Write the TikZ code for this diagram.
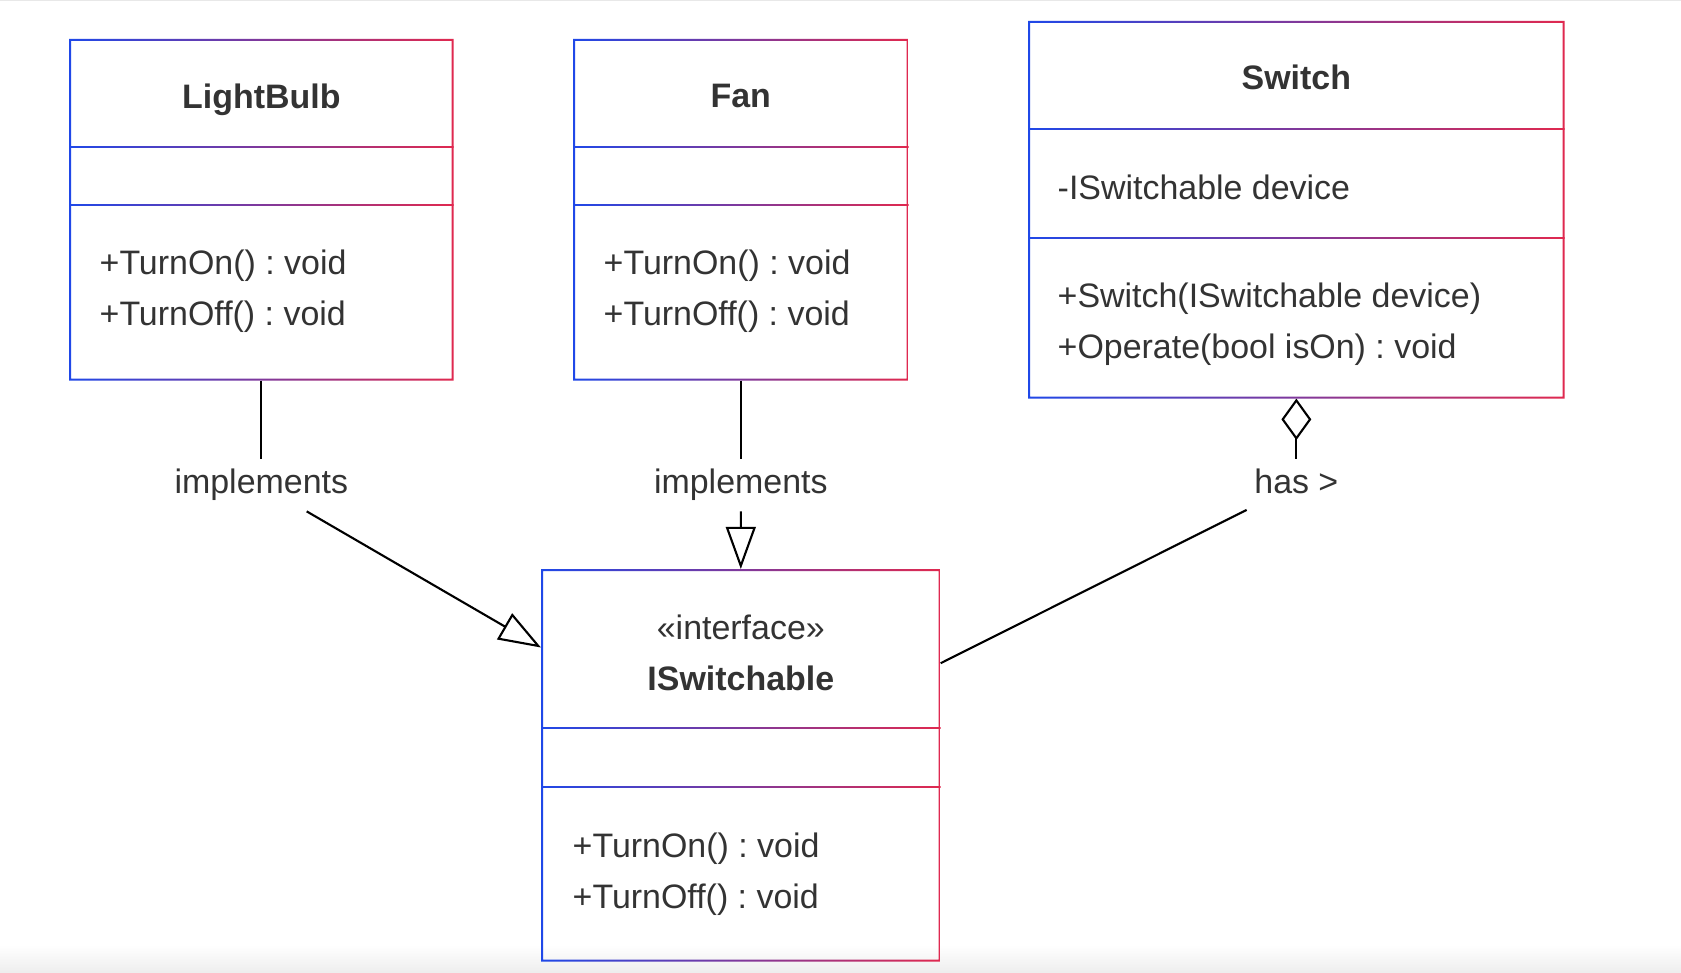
\documentclass[tikz,border=0pt]{standalone}
\usepackage{fontspec}
\setmainfont{Liberation Sans}
\usetikzlibrary{positioning,calc,arrows.meta}
\definecolor{edgeblue}{HTML}{1F48E8}
\definecolor{edgered}{HTML}{E0294F}
\definecolor{txtgray}{HTML}{333333}
\newcommand{\umlfont}{\fontsize{9.65}{14.5}\selectfont}
\frenchspacing
% frame of a class box with its two dividers (given as y in px)
\newcommand{\classframe}[3]{%
  \shade[left color=edgeblue, right color=edgered, even odd rule]
    (#1.north west) rectangle (#1.south east)
    ($(#1.north west)+(2,2)$) rectangle ($(#1.south east)+(-2,-2)$);
  \shade[left color=edgeblue, right color=edgered]
    ($(#1.west |- 0,#2)+(0,-0.8)$) rectangle ($(#1.east |- 0,#2)+(0,0.8)$);
  \shade[left color=edgeblue, right color=edgered]
    ($(#1.west |- 0,#3)+(0,-0.8)$) rectangle ($(#1.east |- 0,#3)+(0,0.8)$);
}

\begin{document}
\begin{tikzpicture}[
    x=0.01cm, y=-0.01cm,
    every node/.style={font=\umlfont, text=txtgray},
    classbox/.style={rectangle, draw=none, anchor=north west, inner sep=0pt},
    classtitle/.style={font=\umlfont\bfseries, align=center, inner sep=0pt},
    members/.style={anchor=west, align=left, inner sep=0pt},
    edgelabel/.style={fill=white, inner xsep=2pt, inner ysep=2.9pt, text height=6.8pt, text depth=2pt},
    link/.style={line width=0.6pt, black},
    realize/.style={link, -{Triangle[open, length=12pt, width=8.5pt]}},
    aggregate/.style={link, {Diamond[open, length=11.8pt, width=8.5pt]}-},
]
\useasboundingbox (0,0) rectangle (1681,973);
\fill[white] (0,0) rectangle (1681,973);
\fill[black!9] (0,0) rectangle (1681,1.5);
\shade[top color=white, bottom color=black!7] (0,945) rectangle (1681,973);

% class boxes
\node[classbox, minimum width=3.83cm, minimum height=3.40cm] (bulb) at (69,39) {};
\node[classbox, minimum width=3.34cm, minimum height=3.40cm] (fan) at (573,39) {};
\node[classbox, minimum width=5.35cm, minimum height=3.76cm] (switch) at (1028,21) {};
\node[classbox, minimum width=3.98cm, minimum height=3.91cm] (iface) at (541,569) {};

\classframe{bulb}{147}{205}
\classframe{fan}{147}{205}
\classframe{switch}{129}{238}
\classframe{iface}{728}{787}

% LightBulb
\node[classtitle, text depth=0pt] (bulbname) at (bulb.north |- 0,96) {LightBulb};
\node[members] (bulbops) at (99,291) {+TurnOn() : void\\+TurnOff() : void};

% Fan
\node[classtitle] (fanname) at (fan.north |- 0,96) {Fan};
\node[members] (fanops) at (603,291) {+TurnOn() : void\\+TurnOff() : void};

% Switch
\node[classtitle] (switchname) at (switch.north |- 0,77) {Switch};
\node[members] (switchattr) at (1057,187) {-ISwitchable device};
\node[members] (switchops) at (1057,324) {+Switch(ISwitchable device)\\+Operate(bool isOn) : void};

% ISwitchable
\node[classtitle] (ifacename) at (iface.north |- 0,653) {{\mdseries «interface»}\\ISwitchable};
\node[members] (ifaceops) at (572,874) {+TurnOn() : void\\+TurnOff() : void};

% relations
\node[edgelabel] (bulbrel) at (bulb.south |- 0,485) {implements};
\node[edgelabel] (fanrel) at (fan.south |- 0,485) {implements};
\node[edgelabel] (switchrel) at (switch.south |- 0,485) {has >};

\draw[link] (bulb.south) -- (bulbrel.north);
\draw[realize] (bulbrel) -- ($(iface.north west)!0.2!(iface.south west)$);
\draw[link] (fan.south) -- (fanrel.north);
\draw[realize] (fanrel) -- (iface.north);
\draw[aggregate] (switch.south) -- (switchrel.north);
\draw[link] (switchrel) -- ($(iface.north east)!0.24!(iface.south east)$);

\end{tikzpicture}
\end{document}
